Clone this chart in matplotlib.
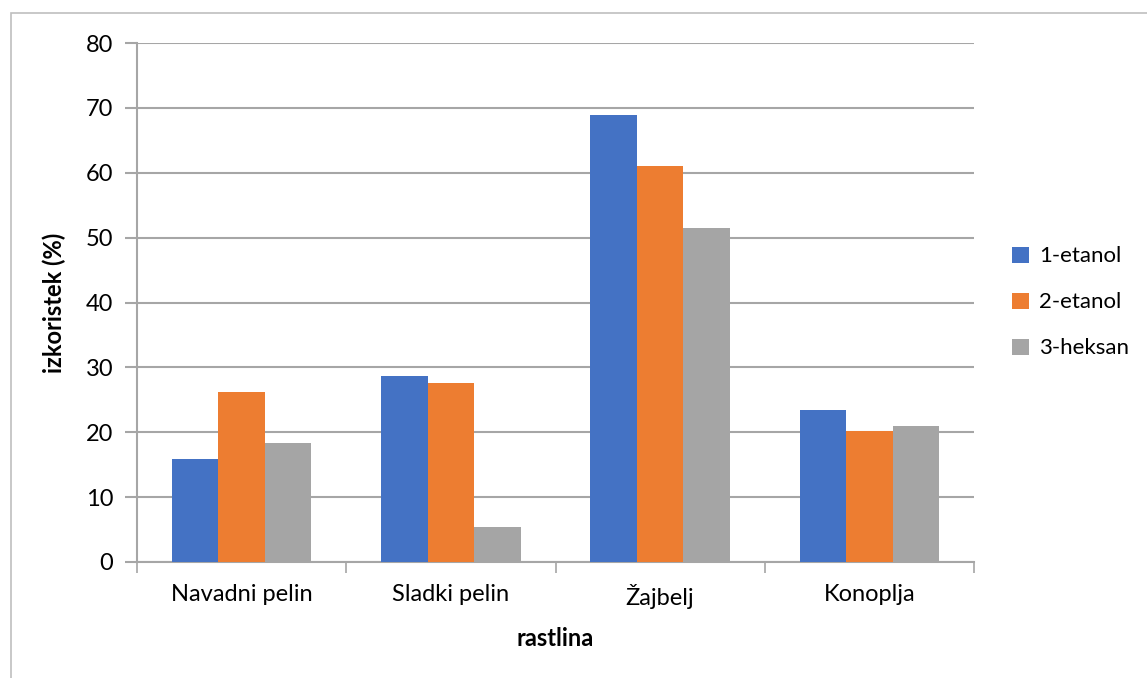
import matplotlib.pyplot as plt
import numpy as np
from matplotlib.patches import Rectangle

# Yield per plant and extraction solvent
plants = ['Navadni pelin', 'Sladki pelin', 'Žajbelj', 'Konoplja']
series_names = ['1-etanol', '2-etanol', '3-heksan']
etanol_1 = [15.8, 28.65, 68.9, 23.4]
etanol_2 = [26.2, 27.6, 61.1, 20.15]
heksan_3 = [18.4, 5.35, 51.5, 20.9]
y_ticks = [0, 10, 20, 30, 40, 50, 60, 70, 80]

colors = ['#4472C4', '#ED7D31', '#A5A5A5']
grid_color = '#A6A6A6'

plt.rcParams['font.family'] = ['Lato', 'DejaVu Sans']

fig = plt.figure(figsize=(11.47, 6.78), dpi=100, facecolor='w')
ax = fig.add_axes([137/1147, 1 - 562/678, (974 - 137)/1147, (562 - 43)/678])

# outer chart border
fig.patches.append(Rectangle((11/1147, -0.1), 1.2, 1 - 13/678 + 0.1, transform=fig.transFigure,
                             fill=False, edgecolor='#BFBFBF', lw=1.2))

x = np.arange(len(plants))
width = 1/4.5
for i, vals in enumerate([etanol_1, etanol_2, heksan_3]):
    ax.bar(x + (i - 1)*width, vals, width, color=colors[i], label=series_names[i], zorder=3)

ax.set_xlim(-0.5, len(plants) - 0.5)
ax.set_ylim(0, 80)
ax.set_yticks(y_ticks)
ax.set_xticks(x)
ax.set_xticklabels(plants)
ax.set_xticks(np.arange(len(plants) + 1) - 0.5, minor=True)
ax.yaxis.grid(True, color=grid_color, lw=1.5, zorder=0)

for s in ['top', 'right']:
    ax.spines[s].set_visible(False)
for s in ['left', 'bottom']:
    ax.spines[s].set_color(grid_color)
    ax.spines[s].set_linewidth(1.5)

ax.tick_params(axis='y', length=9, width=1.5, color=grid_color, labelsize=17, pad=8)
ax.tick_params(axis='x', which='major', length=0, labelsize=17, pad=16)
ax.tick_params(axis='x', which='minor', length=8, width=1.2, color=grid_color)

ax.set_ylabel('izkoristek (%)', fontsize=17, fontweight='bold', labelpad=14)
ax.set_xlabel('rastlina', fontsize=17, fontweight='bold', labelpad=13)

ax.legend(loc='center left', bbox_to_anchor=(1.022, 0.5), frameon=False, fontsize=16,
          handlelength=0.75, handleheight=0.75, handletextpad=0.45, labelspacing=1.17)

fig.savefig('out.png', dpi=100)
